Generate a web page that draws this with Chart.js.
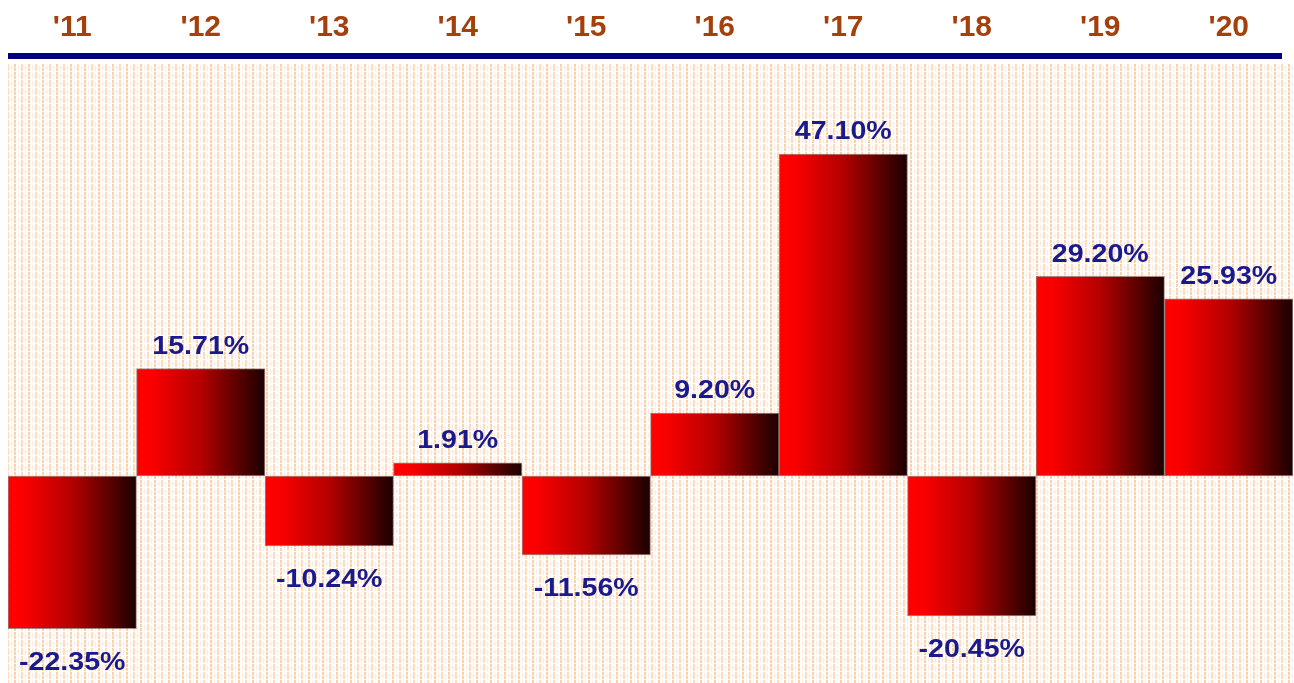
<!DOCTYPE html>
<html>
<head>
<meta charset="utf-8">
<script src="https://cdn.jsdelivr.net/npm/chart.js@4.4.1/dist/chart.umd.min.js"></script>
<style>
  html, body { margin: 0; padding: 0; background: #ffffff; }
  #wrap { width: 1294px; height: 683px; }
</style>
</head>
<body>
<div id="wrap"><canvas id="chart" width="1294" height="683"></canvas></div>
<script>
// yearly returns
const years = ["'11", "'12", "'13", "'14", "'15", "'16", "'17", "'18", "'19", "'20"];
const returns = [-22.35, 15.71, -10.24, 1.91, -11.56, 9.20, 47.10, -20.45, 29.20, 25.93];

const yMin = -30.28;
const yMax = 60.41;

// small peach plaid tile for the plot background
function makePattern(ctx) {
  const tile = document.createElement('canvas');
  tile.width = 14;
  tile.height = 8;
  const t = tile.getContext('2d');
  t.fillStyle = '#ffffff';
  t.fillRect(0, 0, 14, 8);
  // faint horizontal band
  t.fillStyle = '#fff3ea';
  t.fillRect(0, 3, 14, 1);
  t.fillStyle = '#fcd0a8';
  t.fillRect(0, 0, 2, 3);
  t.fillRect(0, 4, 2, 3);
  t.fillStyle = '#fddcbf';
  t.fillRect(7, 0, 2, 7);
  t.fillStyle = '#feeadb';
  t.fillRect(4, 1, 1, 5);
  t.fillRect(11, 2, 1, 5);
  return ctx.createPattern(tile, 'repeat');
}

const backdrop = {
  id: 'backdrop',
  beforeDraw(chart) {
    const { ctx, chartArea } = chart;
    ctx.save();
    ctx.fillStyle = makePattern(ctx);
    ctx.fillRect(chartArea.left, chartArea.top, chartArea.right - chartArea.left, chartArea.bottom - chartArea.top);
    // navy rule under the year labels
    ctx.fillStyle = '#000080';
    ctx.fillRect(chartArea.left, chartArea.top - 10, chartArea.right - chartArea.left - 11, 6);
    ctx.restore();
  }
};

// value labels, slightly widened like the original artwork
const valueLabels = {
  id: 'valueLabels',
  afterDatasetsDraw(chart) {
    const { ctx } = chart;
    const meta = chart.getDatasetMeta(0);
    meta.data.forEach((bar, i) => {
      const v = returns[i];
      const text = v.toFixed(2) + '%';
      const y = v >= 0 ? bar.y - 22 : bar.y + 34;
      ctx.save();
      ctx.translate(bar.x, y);
      ctx.scale(1.1, 1);
      ctx.font = 'bold 26px "Liberation Sans"';
      ctx.fillStyle = '#1a1a8c';
      ctx.textAlign = 'center';
      ctx.textBaseline = 'middle';
      ctx.fillText(text, 0, 0);
      ctx.restore();
    });
  }
};

function barGradient(context) {
  const chart = context.chart;
  const scale = chart.scales.x;
  if (!chart.chartArea || !scale) return '#ff0000';
  const x = scale.getPixelForValue(context.dataIndex);
  const w = scale.width / years.length;
  const g = chart.ctx.createLinearGradient(x - w / 2, 0, x + w / 2, 0);
  g.addColorStop(0, '#ff0000');
  g.addColorStop(0.12, '#fa0000');
  g.addColorStop(0.5, '#b40000');
  g.addColorStop(0.8, '#580000');
  g.addColorStop(1, '#1a0000');
  return g;
}

new Chart(document.getElementById('chart'), {
  type: 'bar',
  data: {
    labels: years,
    datasets: [{
      data: returns,
      backgroundColor: barGradient,
      borderColor: 'rgba(90, 50, 50, 0.55)',
      borderWidth: 1,
      borderSkipped: false,
      barPercentage: 1,
      categoryPercentage: 1
    }]
  },
  options: {
    responsive: false,
    animation: false,
    layout: { padding: { top: 0, left: 8, right: 1, bottom: 0 } },
    plugins: {
      legend: { display: false },
      tooltip: { enabled: false }
    },
    scales: {
      x: {
        position: 'top',
        afterFit(scale) { scale.height = 63; },
        grid: { display: false, drawTicks: false, tickLength: 0 },
        border: { display: false },
        ticks: {
          color: '#a3400c',
          padding: 17,
          font: { family: 'Liberation Sans', size: 30, weight: 'bold' }
        }
      },
      y: {
        display: false,
        min: yMin,
        max: yMax
      }
    }
  },
  plugins: [backdrop, valueLabels]
});
</script>
</body>
</html>
